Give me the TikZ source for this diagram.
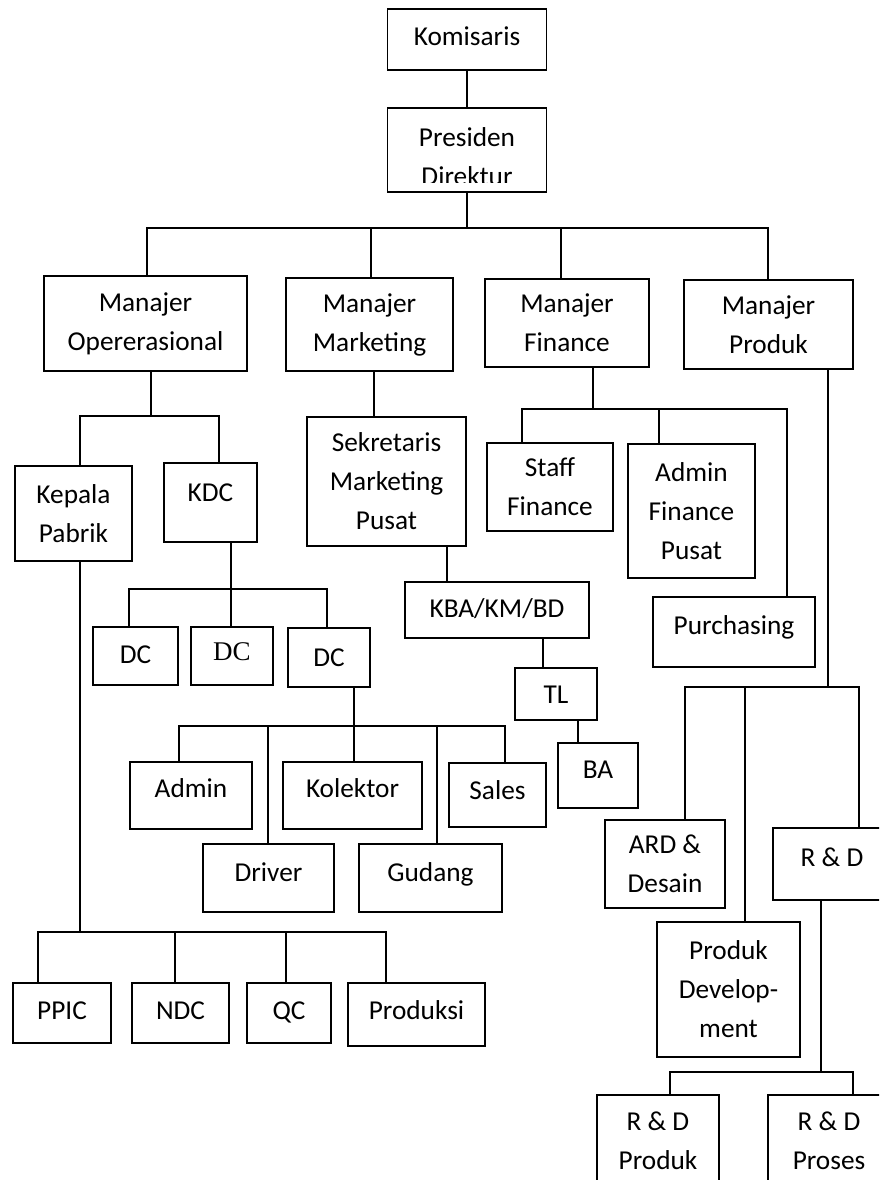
\documentclass[tikz,border=0pt]{standalone}
\usepackage{fontspec}
\setmainfont{Carlito}
\newfontfamily\hurufserif{Liberation Serif}
\tikzset{
  teks/.style={align=center,inner sep=0pt,font=\fontsize{27.3}{39}\selectfont},
  kotak/.style={teks,draw,line width=1.7pt},
  ukuran/.style 2 args={minimum width=#1pt,minimum height=#2pt},
  naik/.style={text height=18pt,text depth=#1pt},
  garis/.style={line width=1.7pt}
}
\begin{document}
\begin{tikzpicture}[x=1pt,y=-1pt]
    \useasboundingbox (0,0) rectangle (879,1180);
    \clip (0,0) rectangle (879,1180);
    \node[kotak,ukuran={159}{61},naik=6.4] (komisaris) at (467,39.5) {Komisaris};
    \node[kotak,ukuran={159}{84}] (presdir) at (467,150) {};
    \begin{scope}
      \clip (387,108) rectangle (546,182);
      \node[teks] (presdirteks) at (467,157) {Presiden\\Direktur};
    \end{scope}
    \node[kotak,ukuran={203}{95}] (mops) at (145.5,323.5) {Manajer\\Opererasional};
    \node[kotak,ukuran={167}{93}] (mmkt) at (369.5,324.5) {Manajer\\Marketing};
    \node[kotak,ukuran={164}{88}] (mfin) at (567,323) {Manajer\\Finance};
    \node[kotak,ukuran={169}{89}] (mprod) at (768.5,324.5) {Manajer\\Produk};
    \node[kotak,ukuran={117}{95}] (kepala) at (73.5,513.5) {Kepala\\Pabrik};
    \node[kotak,ukuran={93}{79},naik=21] (kdc) at (210.5,502.5) {KDC};
    \node[kotak,ukuran={159}{129}] (sekr) at (386.5,481.5) {Sekretaris\\Marketing\\Pusat};
    \node[kotak,ukuran={126}{88}] (staff) at (550,487) {Staff\\Finance};
    \node[kotak,ukuran={127}{134}] (adminfin) at (691.5,511) {Admin\\Finance\\Pusat};
    \node[kotak,ukuran={162}{70},naik=12.4] (purch) at (734,632) {Purchasing};
    \node[kotak,ukuran={184}{56},naik=2.4] (kba) at (497,610) {KBA/KM/BD};
    \node[kotak,ukuran={82}{52},naik=0] (tl) at (556,694) {TL};
    \node[kotak,ukuran={80}{65},naik=11.4] (ba) at (598,775.5) {BA};
    \node[kotak,ukuran={85}{58},naik=2.4] (dca) at (135.5,656) {DC};
    \node[kotak,ukuran={82}{58},naik=8.2,font=\hurufserif\fontsize{27}{39}\selectfont] (dcb) at (232,656) {DC};
    \node[kotak,ukuran={82}{59},naik=0] (dcc) at (329,657.5) {DC};
    \node[kotak,ukuran={122}{67},naik=13.4] (admin) at (191,795.5) {Admin};
    \node[kotak,ukuran={139}{67},naik=13.4] (kolektor) at (352.5,795.5) {Kolektor};
    \node[kotak,ukuran={97}{64},naik=8.4] (sales) at (497.5,795) {Sales};
    \node[kotak,ukuran={131}{68},naik=11.4] (driver) at (268.5,878) {Driver};
    \node[kotak,ukuran={143}{68},naik=11.4] (gudang) at (430.5,878) {Gudang};
    \node[kotak,ukuran={98}{60},naik=4.4] (ppic) at (62,1013) {PPIC};
    \node[kotak,ukuran={97}{60},naik=4.4] (ndc) at (180.5,1013) {NDC};
    \node[kotak,ukuran={84}{60},naik=4.4] (qc) at (289,1013) {QC};
    \node[kotak,ukuran={137}{63},naik=7.4] (produksi) at (416.5,1014.5) {Produksi};
    \node[kotak,ukuran={120}{88}] (ard) at (665,864) {ARD \&\\Desain};
    \node[kotak,ukuran={118}{72},naik=12.4] (rnd) at (832,864) {R \& D};
    \node[kotak,ukuran={143}{135}] (proddev) at (728.5,989.5) {Produk\\Develop-\\ment};
    \node[kotak,ukuran={122}{92}] (rndprod) at (658,1141) {R \& D\\Produk};
    \node[kotak,ukuran={122}{92}] (rndproses) at (829,1141) {R \& D\\Proses};
    \coordinate (ta) at (147,228);
    \coordinate (tb) at (371,228);
    \coordinate (tc) at (561,228);
    \coordinate (td) at (768,228);
    \coordinate (te) at (467,228);
    \coordinate (oa) at (151,416);
    \coordinate (ob) at (80,416);
    \coordinate (oc) at (219,416);
    \coordinate (pa) at (80,932);
    \coordinate (pb) at (38,932);
    \coordinate (pc) at (175,932);
    \coordinate (pd) at (286,932);
    \coordinate (pe) at (386,932);
    \coordinate (ka) at (231,589);
    \coordinate (kb) at (129,589);
    \coordinate (kc) at (327,589);
    \coordinate (da) at (354,726);
    \coordinate (db) at (179,726);
    \coordinate (dc) at (268,726);
    \coordinate (dd) at (437,726);
    \coordinate (de) at (505,726);
    \coordinate (ma) at (374,400);
    \coordinate (mb) at (447,560);
    \coordinate (mc) at (543,650);
    \coordinate (md) at (578,730);
    \coordinate (fa) at (593,409);
    \coordinate (fb) at (522,409);
    \coordinate (fc) at (659,409);
    \coordinate (fd) at (787,409);
    \coordinate (ga) at (828,687);
    \coordinate (gb) at (685,687);
    \coordinate (gc) at (745,687);
    \coordinate (gd) at (859,687);
    \coordinate (ha) at (821,1072);
    \coordinate (hb) at (670,1072);
    \coordinate (hc) at (853,1072);
    \draw[garis] (komisaris.south) -- (presdir.north);
    \draw[garis] (te |- presdir.south) -- (te);
    \draw[garis] (ta |- mops.north) -- (ta) -- (td) -- (td |- mprod.north);
    \draw[garis] (tb) -- (tb |- mmkt.north);
    \draw[garis] (tc) -- (tc |- mfin.north);
    \draw[garis] (oa |- mops.south) -- (oa);
    \draw[garis] (ob |- kepala.north) -- (ob) -- (oc) -- (oc |- kdc.north);
    \draw[garis] (pa |- kepala.south) -- (pa);
    \draw[garis] (pb |- ppic.north) -- (pb) -- (pe) -- (pe |- produksi.north);
    \draw[garis] (pc) -- (pc |- ndc.north);
    \draw[garis] (pd) -- (pd |- qc.north);
    \draw[garis] (ka |- kdc.south) -- (ka |- dcb.north);
    \draw[garis] (kb |- dca.north) -- (kb) -- (kc) -- (kc |- dcc.north);
    \draw[garis] (da |- dcc.south) -- (da |- kolektor.north);
    \draw[garis] (db |- admin.north) -- (db) -- (de) -- (de |- sales.north);
    \draw[garis] (dc) -- (dc |- driver.north);
    \draw[garis] (dd) -- (dd |- gudang.north);
    \draw[garis] (ma |- mmkt.south) -- (ma |- sekr.north);
    \draw[garis] (mb |- sekr.south) -- (mb |- kba.north);
    \draw[garis] (mc |- kba.south) -- (mc |- tl.north);
    \draw[garis] (md |- tl.south) -- (md |- ba.north);
    \draw[garis] (fa |- mfin.south) -- (fa);
    \draw[garis] (fb |- staff.north) -- (fb) -- (fd) -- (fd |- purch.north);
    \draw[garis] (fc) -- (fc |- adminfin.north);
    \draw[garis] (ga |- mprod.south) -- (ga);
    \draw[garis] (gb |- ard.north) -- (gb) -- (gd) -- (gd |- rnd.north);
    \draw[garis] (gc) -- (gc |- proddev.north);
    \draw[garis] (ha |- rnd.south) -- (ha);
    \draw[garis] (hb |- rndprod.north) -- (hb) -- (hc) -- (hc |- rndproses.north);
\end{tikzpicture}
\end{document}
